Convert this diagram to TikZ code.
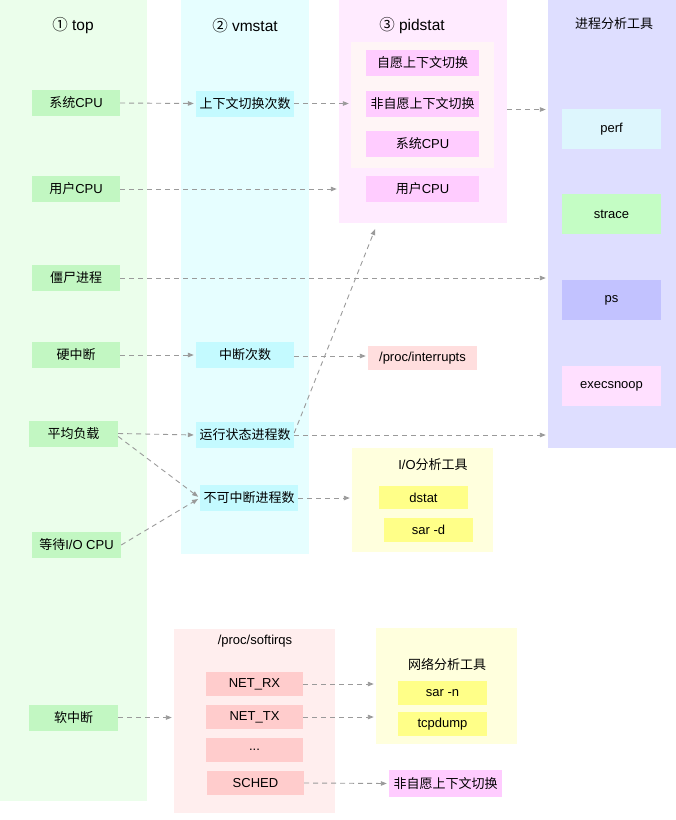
\documentclass[tikz,border=0pt]{standalone}
\usepackage{fontspec}
\setmainfont{Liberation Sans}
\newfontfamily\cjk{Noto Sans CJK SC}
\newcommand{\zh}[1]{{\cjk #1}}
\usetikzlibrary{arrows.meta,calc}

\definecolor{topbg}{HTML}{EBFEEB}
\definecolor{topnode}{HTML}{C2F7C2}
\definecolor{vmbg}{HTML}{E6FEFF}
\definecolor{vmnode}{HTML}{C4FAFF}
\definecolor{pidbg}{HTML}{FFEBFF}
\definecolor{pidin}{HTML}{FFF5F6}
\definecolor{pidnode}{HTML}{FFCCFF}
\definecolor{procbg}{HTML}{DEDEFF}
\definecolor{perfc}{HTML}{DDF6FD}
\definecolor{stracec}{HTML}{C4FDC4}
\definecolor{psc}{HTML}{C2C2FF}
\definecolor{execc}{HTML}{FFE0FF}
\definecolor{irqc}{HTML}{FFDEDE}
\definecolor{toolbg}{HTML}{FFFFDD}
\definecolor{toolnode}{HTML}{FFFF88}
\definecolor{softbg}{HTML}{FFEEEE}
\definecolor{softnode}{HTML}{FFCCCC}
\definecolor{linegray}{HTML}{9A9A9A}

\tikzset{
  panel/.style={inner sep=0pt, draw=none},
  item/.style={inner sep=0pt, minimum height=26pt, font=\fontsize{13}{15}\selectfont},
  tool/.style={item, minimum width=99pt, minimum height=40pt},
  title/.style={inner sep=0pt, font=\fontsize{15.5}{18}\selectfont},
  subtitle/.style={inner sep=0pt, font=\fontsize{13}{15}\selectfont},
  link/.style={draw=linegray, line width=0.9pt, dash pattern=on 5pt off 4pt,
    shorten >=2pt, -{Triangle[length=6pt,width=4.5pt]}}
}

\begin{document}
\begin{tikzpicture}[x=1pt,y=-1pt]

		\useasboundingbox (0,0) rectangle (676,820);

		% columns
		\node [panel, fill=topbg, minimum width=147pt, minimum height=801pt] (topcol) at (73.5,400.5) {};
		\node [panel, fill=vmbg, minimum width=128pt, minimum height=554pt] (vmcol) at (245,277) {};
		\node [panel, fill=pidbg, minimum width=168pt, minimum height=223pt] (pidcol) at (423,111.5) {};
		\node [panel, fill=pidin, minimum width=143pt, minimum height=126pt] (pidsub) at (422.5,105) {};
		\node [panel, fill=procbg, minimum width=128pt, minimum height=448pt] (proccol) at (612,224) {};
		\node [panel, fill=toolbg, minimum width=141pt, minimum height=104pt] (iobox) at (422.5,500) {};
		\node [panel, fill=softbg, minimum width=161pt, minimum height=184pt] (softbox) at (254.5,721) {};
		\node [panel, fill=toolbg, minimum width=141pt, minimum height=116pt] (netbox) at (446.5,686) {};

		% titles
		\node [title] (toptitle) at (73,26) {\zh{①} top};
		\node [title] (vmtitle) at (245,26) {\zh{②} vmstat};
		\node [title] (pidtitle) at (412,26) {\zh{③} pidstat};
		\node [subtitle] (proctitle) at (614,24) {\zh{进程分析工具}};
		\node [subtitle] (iotitle) at (433,465) {I/O\zh{分析工具}};
		\node [subtitle] (softtitle) at (255,641) {/proc/softirqs};
		\node [subtitle] (nettitle) at (447,664) {\zh{网络分析工具}};

		% top
		\node [item, fill=topnode, minimum width=88pt] (sys) at (76,103) {\zh{系统}CPU};
		\node [item, fill=topnode, minimum width=88pt] (usr) at (76,189) {\zh{用户}CPU};
		\node [item, fill=topnode, minimum width=88pt] (zombie) at (76,278) {\zh{僵尸进程}};
		\node [item, fill=topnode, minimum width=88pt] (hardirq) at (76,355) {\zh{硬中断}};
		\node [item, fill=topnode, minimum width=89pt] (loadavg) at (73.5,433.5) {\zh{平均负载}};
		\node [item, fill=topnode, minimum width=89pt] (iowait) at (76.5,545) {\zh{等待}I/O CPU};
		\node [item, fill=topnode, minimum width=89pt] (softirq) at (73.5,717.5) {\zh{软中断}};

		% vmstat
		\node [item, fill=vmnode, minimum width=98pt] (ctx) at (245,103.5) {\zh{上下文切换次数}};
		\node [item, fill=vmnode, minimum width=98pt] (irqcnt) at (245,355) {\zh{中断次数}};
		\node [item, fill=vmnode, minimum width=98pt] (runq) at (245,435) {\zh{运行状态进程数}};
		\node [item, fill=vmnode, minimum width=98pt] (uninterr) at (249,498) {\zh{不可中断进程数}};

		% pidstat
		\node [item, fill=pidnode, minimum width=113pt] (vcsw) at (422.5,63) {\zh{自愿上下文切换}};
		\node [item, fill=pidnode, minimum width=113pt] (nvcsw) at (422.5,103.5) {\zh{非自愿上下文切换}};
		\node [item, fill=pidnode, minimum width=113pt] (pidsys) at (422.5,144) {\zh{系统}CPU};
		\node [item, fill=pidnode, minimum width=113pt] (pidusr) at (422.5,189) {\zh{用户}CPU};

		% process tools
		\node [tool, fill=perfc] (perf) at (611.5,129) {perf};
		\node [tool, fill=stracec] (strace) at (611.5,214) {strace};
		\node [tool, fill=psc] (ps) at (611.5,300) {ps};
		\node [tool, fill=execc] (execsnoop) at (611.5,386) {execsnoop};

		% interrupts and tools
		\node [item, fill=irqc, minimum width=109pt, minimum height=24pt] (interrupts) at (422.5,358) {/proc/interrupts};
		\node [item, fill=toolnode, minimum width=89pt, minimum height=23pt] (dstat) at (423.5,497.5) {dstat};
		\node [item, fill=toolnode, minimum width=89pt, minimum height=24pt] (sard) at (428.5,530) {sar -d};

		% softirqs
		\node [item, fill=softnode, minimum width=97pt, minimum height=24pt] (netrx) at (254.5,684) {NET\_RX};
		\node [item, fill=softnode, minimum width=97pt, minimum height=24pt] (nettx) at (254.5,717) {NET\_TX};
		\node [item, fill=softnode, minimum width=97pt, minimum height=24pt] (dots) at (254.5,750) {...};
		\node [item, fill=softnode, minimum width=97pt, minimum height=24pt] (sched) at (255.5,783) {SCHED};
		\node [item, fill=toolnode, minimum width=89pt, minimum height=24pt] (sarn) at (442.5,693) {sar -n};
		\node [item, fill=toolnode, minimum width=89pt, minimum height=24pt] (tcpdump) at (442.5,724) {tcpdump};
		\node [item, fill=pidnode, minimum width=113pt, minimum height=27pt] (softnv) at (445.5,783.5) {\zh{非自愿上下文切换}};

		% links
		\draw [link] (sys.east) -- (ctx.west);
		\draw [link] (ctx.east) -- (ctx.east -| pidsub.west);
		\draw [link] ([yshift=2pt]pidcol.east) -- ([yshift=2pt]pidcol.east -| proccol.west);
		\draw [link] (usr.east) -- (usr.east -| pidcol.west);
		\draw [link] (zombie.east) -- (zombie.east -| proccol.west);
		\draw [link] (hardirq.east) -- (irqcnt.west);
		\draw [link] ([yshift=-1pt]irqcnt.east) -- ([yshift=-1pt]irqcnt.east -| interrupts.west);
		\draw [link] (loadavg.east) -- (runq.west);
		\draw [link] (runq.east) -- (runq.east -| proccol.west);
		\draw [link] ([yshift=2pt]runq.east) -- ($(pidcol.south west)!0.22!(pidcol.south east)+(0,4)$);
		\draw [link] ([yshift=-3pt]loadavg.east) -- (uninterr.west);
		\draw [link] (iowait.east) -- (uninterr.west);
		\draw [link] (uninterr.east) -- (uninterr.east -| iobox.west);
		\draw [link] (softirq.east) -- (softirq.east -| softbox.west);
		\draw [link] (netrx.east) -- (netrx.east -| netbox.west);
		\draw [link] (nettx.east) -- (nettx.east -| netbox.west);
		\draw [link] (sched.east) -- (softnv.west);

\end{tikzpicture}
\end{document}
